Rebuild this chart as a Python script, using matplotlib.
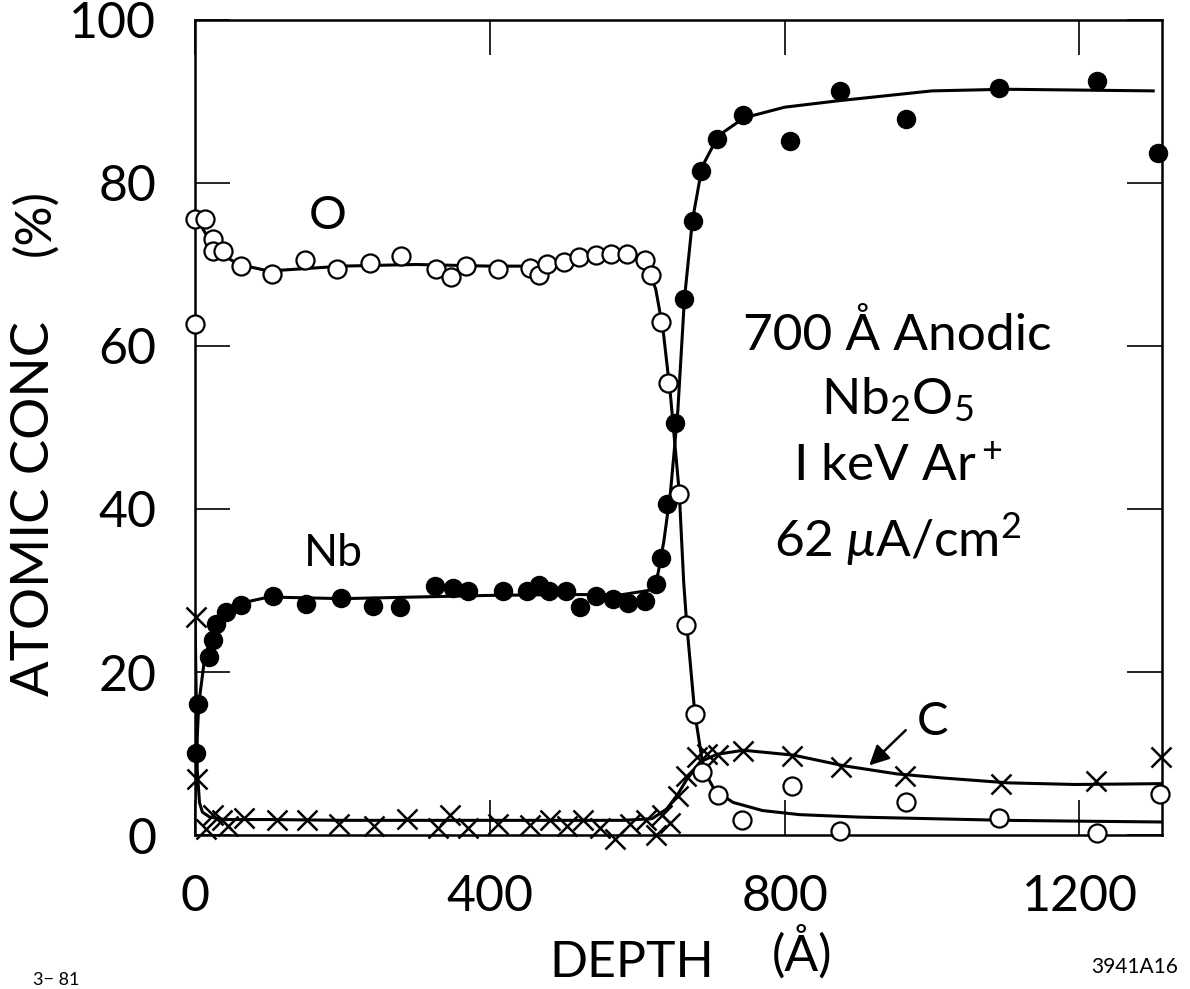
import matplotlib
matplotlib.use("Agg")
import matplotlib.pyplot as plt

plt.rcParams['font.family'] = ['Lato', 'DejaVu Sans']
plt.rcParams['font.weight'] = 'normal'
plt.rcParams['mathtext.fontset'] = 'custom'
plt.rcParams['mathtext.rm'] = 'Lato'
plt.rcParams['mathtext.it'] = 'Lato:italic'

# --- measured points (depth in Angstrom, atomic conc in %) ---
o_depth = [0, 0, 13, 24, 25, 38, 62, 104, 149, 192, 238, 280, 327, 347, 368, 411,
           455, 466, 478, 501, 521, 544, 565, 586, 610, 619, 632, 642, 657, 666,
           678, 688, 709, 742, 810, 875, 964, 1091, 1224, 1309]
o_conc = [62.7, 75.6, 75.6, 73.1, 71.6, 71.7, 69.8, 68.8, 70.6, 69.5, 70.2, 71.1,
          69.4, 68.5, 69.8, 69.5, 69.6, 68.7, 70.1, 70.3, 70.9, 71.2, 71.3, 71.3,
          70.5, 68.7, 63.0, 55.5, 41.8, 25.8, 14.8, 7.7, 4.9, 1.9, 6.0, 0.5, 4.0,
          2.1, 0.2, 5.0]

nb_depth = [1, 4, 19, 24, 29, 42, 63, 106, 151, 198, 241, 278, 325, 350, 370, 418,
            451, 466, 480, 503, 522, 544, 567, 587, 611, 625, 632, 640, 651, 664,
            675, 686, 708, 743, 807, 875, 964, 1091, 1224, 1307]
nb_conc = [10.1, 16.1, 21.8, 23.9, 25.9, 27.4, 28.2, 29.3, 28.3, 29.1, 28.1, 28.0,
           30.5, 30.3, 30.0, 30.0, 30.0, 30.7, 30.0, 30.0, 28.0, 29.3, 29.0, 28.5,
           28.7, 30.8, 34.0, 40.6, 50.5, 65.8, 75.3, 81.5, 85.4, 88.3, 85.1, 91.3,
           87.8, 91.6, 92.5, 83.7]

c_depth = [1, 3, 15, 25, 36, 45, 66, 111, 152, 195, 243, 287, 330, 346, 371, 411,
           455, 482, 504, 527, 550, 570, 590, 612, 625, 633, 644, 655, 666, 681,
           695, 710, 744, 810, 877, 963, 1093, 1223, 1310]
c_conc = [26.7, 6.9, 0.7, 2.4, 1.8, 1.1, 2.1, 1.8, 1.8, 1.4, 1.1, 2.0, 0.8, 2.5,
          0.8, 1.4, 1.2, 1.9, 1.1, 1.8, 0.8, -0.5, 1.4, 1.8, 0.0, 2.4, 1.5, 4.8,
          7.2, 9.6, 9.9, 9.8, 10.3, 9.7, 8.3, 7.2, 6.3, 6.6, 9.6]

# --- hand drawn fit curves ---
o_fit_x = [0, 13, 30, 60, 100, 150, 200, 300, 400, 460, 500, 550, 590, 612, 625,
           635, 645, 657, 663, 667, 678, 690, 705, 730, 770, 820, 900, 1000, 1100,
           1200, 1310]
o_fit_y = [76, 74, 71.5, 70, 69.2, 69.5, 69.8, 70, 69.8, 69.8, 70.4, 71.2, 71, 70,
           67, 62, 54, 42, 31, 26, 15, 8, 5.5, 4, 3, 2.5, 2.2, 2.0, 1.8, 1.7, 1.6]

nb_fit_x = [0, 2, 5, 12, 20, 30, 45, 65, 100, 200, 300, 400, 500, 580, 615, 628,
            636, 645, 655, 664, 675, 688, 710, 745, 800, 874, 1000, 1100, 1200, 1300]
nb_fit_y = [4, 10, 16, 21, 24, 26, 27.6, 28.5, 29.2, 29, 29.2, 29.4, 29.5, 29.5,
            30, 32, 36, 42, 52, 65.8, 75.5, 82, 85.8, 88, 89.3, 90.1, 91.3, 91.5,
            91.4, 91.3]

c_fit_x = [0, 3, 6, 10, 20, 40, 100, 200, 300, 400, 500, 580, 620, 640, 655, 667,
           686, 708, 744, 812, 880, 952, 1014, 1103, 1194, 1310]
c_fit_y = [27, 8, 4, 2.8, 2.2, 1.9, 1.9, 1.8, 1.8, 1.8, 1.8, 1.8, 2.0, 3.2, 5.0,
           6.8, 9.0, 9.9, 10.4, 9.8, 8.5, 7.5, 7.0, 6.4, 6.2, 6.3]

xticks = [0, 400, 800, 1200]
yticks = [0, 20, 40, 60, 80, 100]

fig = plt.figure(figsize=(11.9, 9.89), dpi=100)
ax = fig.add_axes([0.1639, 0.1557, 0.8126, 0.8241])

ax.plot(o_fit_x, o_fit_y, 'k-', lw=2.2, zorder=2)
ax.plot(nb_fit_x, nb_fit_y, 'k-', lw=2.2, zorder=2)
ax.plot(c_fit_x, c_fit_y, 'k-', lw=2.2, zorder=2)

ax.plot(c_depth, c_conc, 'kx', ms=14, mew=1.8, clip_on=False, zorder=3)
ax.plot(nb_depth, nb_conc, 'ko', ms=13, clip_on=False, zorder=4)
ax.plot(o_depth, o_conc, 'o', ms=13, mfc='white', mec='black', mew=1.6,
        clip_on=False, zorder=5)

ax.set_xlim(0, 1312)
ax.set_ylim(0, 100)
ax.set_xticks(xticks)
ax.set_yticks(yticks)
ax.set_xticklabels([str(t) for t in xticks], fontsize=36)
ax.set_yticklabels([str(t) for t in yticks], fontsize=36)
ax.tick_params(direction='in', top=True, right=True, length=25, width=1.2)
ax.tick_params(axis='x', pad=28)
ax.tick_params(axis='y', pad=28)
for s in ax.spines.values():
    s.set_linewidth(1.8)

# labels inside the plot
ax.text(180, 76, 'O', fontsize=34, ha='center', va='center')
ax.text(188, 34.5, 'Nb', fontsize=32, ha='center', va='center')
ax.text(953, 61.3, '700 Å Anodic', fontsize=37, ha='center', va='center')
ax.text(953, 53.4, 'Nb$_2$O$_5$', fontsize=37, ha='center', va='center')
ax.text(953, 45.2, 'I keV Ar$^+$', fontsize=37, ha='center', va='center')
ax.text(953, 36.2, '62 $\\mu$A/cm$^2$', fontsize=37, ha='center', va='center')
ax.annotate('', xy=(912, 8.3), xytext=(967, 13.1),
            arrowprops=dict(arrowstyle='-|>', color='black', lw=1.8,
                            mutation_scale=30))
ax.text(1000, 13.9, 'C', fontsize=34, ha='center', va='center')

# axis titles
fig.text(35 / 1190, 1 - 508 / 989, 'ATOMIC CONC', fontsize=38, rotation=90,
         ha='center', va='center')
fig.text(35 / 1190, 1 - 222 / 989, '(%)', fontsize=36, rotation=90,
         ha='center', va='center')
fig.text(632 / 1190, 1 - 963 / 989, 'DEPTH', fontsize=36, ha='center', va='center')
fig.text(802 / 1190, 1 - 952 / 989, '(Å)', fontsize=36, ha='center', va='center')

fig.text(1135 / 1190, 1 - 967 / 989, '3941A16', fontsize=15, ha='center', va='center')
fig.text(33 / 1190, 1 - 972 / 989, '3− 81', fontsize=13, ha='left', va='top')

fig.savefig('out.png', dpi=100)
